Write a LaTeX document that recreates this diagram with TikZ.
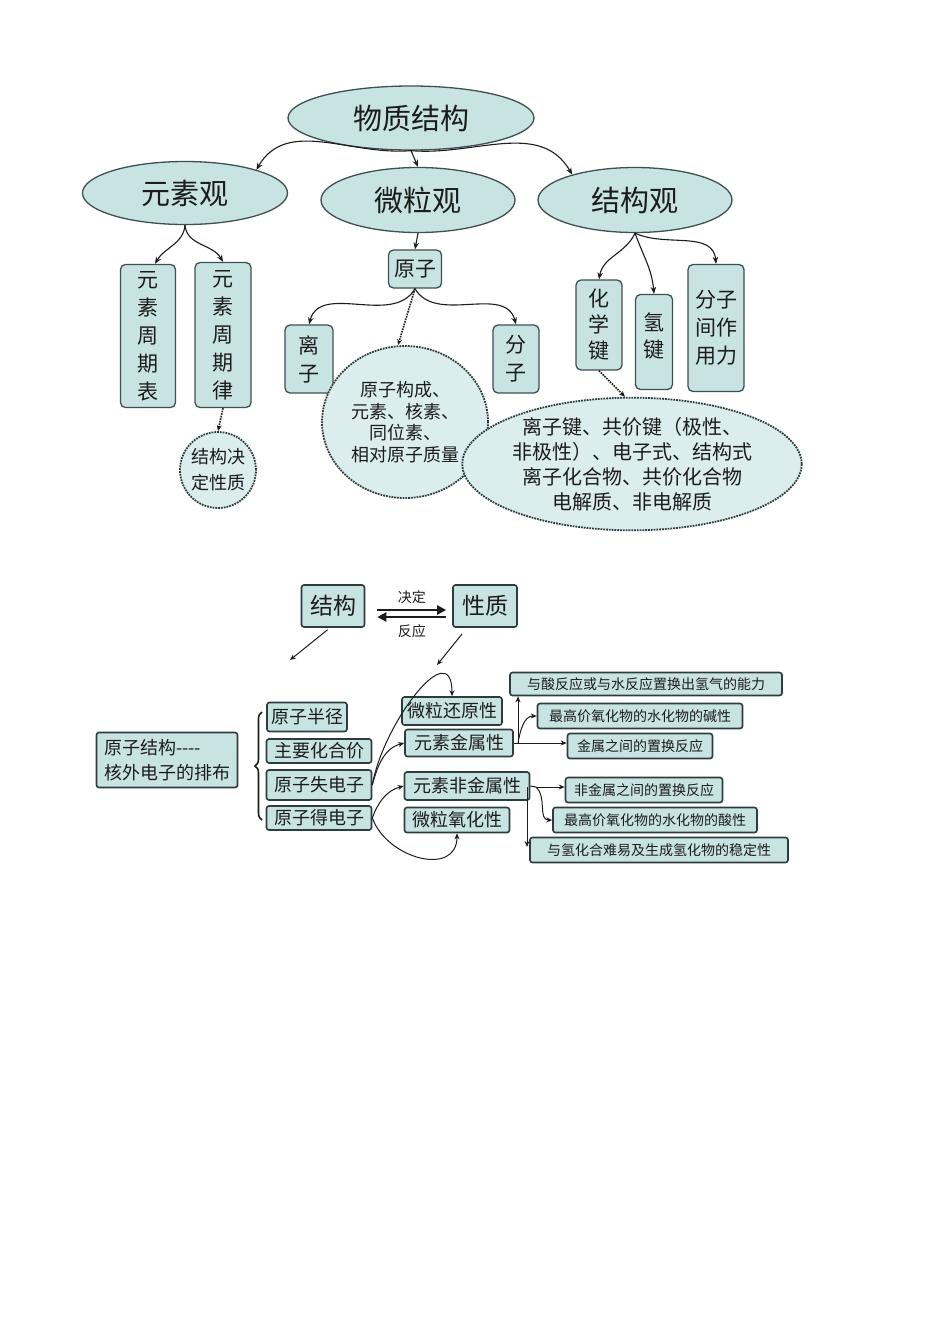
\documentclass[tikz,border=0pt]{standalone}
\usepackage{fontspec}
\setmainfont{Noto Sans CJK SC}
\usetikzlibrary{arrows.meta,shapes.geometric,decorations.pathreplacing,calc}
\definecolor{tealfill}{RGB}{200,228,226}
\definecolor{edge}{RGB}{62,80,80}
\definecolor{edgedark}{RGB}{45,60,60}
\definecolor{ink}{RGB}{28,28,28}
\begin{document}
\begin{tikzpicture}[x=1pt,y=-1pt,
  ell/.style={ellipse, draw=edge, line width=1.3pt, fill=tealfill, inner sep=0pt, text=ink, font=\fontsize{29}{32}\selectfont},
  vbox/.style={rectangle, rounded corners=5pt, draw=edge, line width=1.3pt, fill=tealfill, inner sep=0pt, align=center, text=ink, font=\fontsize{21}{28}\selectfont},
  dell/.style={ellipse, draw=edgedark, densely dotted, line width=1.8pt, fill=tealfill!65!white, inner sep=0pt, align=center, text=ink},
  bbox/.style={rectangle, rounded corners=2.5pt, draw=edgedark, line width=1.6pt, fill=tealfill, inner sep=0pt, align=center, text=ink, font=\fontsize{18}{25}\selectfont},
  sbox/.style={bbox, font=\fontsize{14}{16}\selectfont},
  arr/.style={-{Stealth[length=7pt,width=5.5pt]}, line width=1.1pt, draw=ink},
  darr/.style={-{Stealth[length=6pt,width=5pt]}, line width=1.6pt, densely dotted, draw=ink},
  sarr/.style={-{Stealth[length=6pt,width=5pt]}, line width=1pt, draw=ink}
]
\useasboundingbox (0,0) rectangle (950,1344);

% ---------- top diagram ----------
\node[ell, minimum width=246pt, minimum height=64pt] (root) at (411,118) {物质结构};
\node[ell, minimum width=205pt, minimum height=63pt] (yuan) at (185,193) {元素观};
\node[ell, minimum width=194pt, minimum height=65pt] (weili) at (418,200) {微粒观};
\node[ell, minimum width=194pt, minimum height=65pt] (jgg) at (635,200) {结构观};

\draw[arr] (root.south) to[out=185,in=60] (yuan.18);
\draw[arr] (root.south) -- (weili.north);
\draw[arr] (root.south) to[out=-5,in=120] (jgg.158);

\node[vbox, minimum width=55pt, minimum height=143pt] (zqb) at (148,336) {元\\素\\周\\期\\表};
\node[vbox, minimum width=56pt, minimum height=145pt] (zql) at (223,335) {元\\素\\周\\期\\律};
\draw[arr] (yuan.south) to[out=-95,in=60] ([xshift=7pt]zqb.north);
\draw[arr] (yuan.south) to[out=-85,in=120] (zql.north);

\node[dell, circle, minimum size=76pt, font=\fontsize{18}{26}\selectfont] (jdxz) at (218,470) {结构决\\定性质};
\draw[darr] (zql.south) -- (jdxz.north);

\node[vbox, minimum width=53pt, minimum height=38pt] (yz) at (415,269) {原子};
\draw[arr] (weili.south) -- (yz.north);
\node[vbox, minimum width=48pt, minimum height=68pt] (lz) at (309,359) {离\\子};
\node[vbox, minimum width=46pt, minimum height=68pt] (fz) at (516,359) {分\\子};
\draw[arr] (yz.south) to[out=-120,in=75] (lz.north);
\draw[arr] (yz.south) to[out=-60,in=105] (fz.north);

\node[dell, minimum width=166pt, minimum height=152pt, font=\fontsize{18}{21.5}\selectfont] (yzc) at (405,422) {原子构成、\\元素、核素、\\同位素、\\相对原子质量};
\draw[darr] (yz.south) -- ([xshift=-7pt]yzc.north);

\node[vbox, minimum width=46pt, minimum height=90pt, font=\fontsize{21}{26}\selectfont] (hxj) at (599,325) {化\\学\\键};
\node[vbox, minimum width=37pt, minimum height=95pt, font=\fontsize{21}{27}\selectfont, text depth=14pt] (qj) at (654,342) {氢\\键};
\node[vbox, minimum width=56pt, minimum height=127pt] (fzj) at (716,328) {分子\\间作\\用力};
\draw[arr] (jgg.south) to[out=-115,in=80] (hxj.north);
\draw[arr] (jgg.south) to[out=-70,in=95] (qj.north);
\draw[arr] (jgg.south) to[out=-25,in=95] (fzj.north);

\node[dell, minimum width=310pt, minimum height=132pt, font=\fontsize{20}{25}\selectfont] (hxjc) at (632,464) {离子键、共价键（极性、\\非极性）、电子式、结构式\\离子化合物、共价化合物\\电解质、非电解质};
\draw[darr] (hxj.south) -- ([xshift=-7pt]hxjc.north);

% ---------- bottom diagram ----------
\node[bbox, minimum width=63pt, minimum height=42pt, font=\fontsize{23}{26}\selectfont] (jg) at (333,606) {结构};
\node[bbox, minimum width=64pt, minimum height=42pt, font=\fontsize{23}{26}\selectfont] (xz) at (485,606) {性质};
\draw[-{Triangle[length=9pt,width=9pt]}, line width=2.6pt, draw=ink] ([xshift=12pt,yshift=-4pt]jg.east) -- ([xshift=-6pt,yshift=-4pt]xz.west) node[midway, above=2pt, font=\fontsize{14}{15}\selectfont, text=ink] {决定};
\draw[-{Triangle[length=9pt,width=9pt]}, line width=2.6pt, draw=ink] ([xshift=-6pt,yshift=-11pt]xz.west) -- ([xshift=12pt,yshift=-11pt]jg.east) node[midway, below=3pt, font=\fontsize{14}{15}\selectfont, text=ink] {反应};

\coordinate (p1) at (290,660);
\coordinate (p2) at (437,665);
\draw[sarr, shorten <=3pt] ([xshift=-3pt]jg.south) -- (p1);
\draw[sarr, shorten <=8pt] ([xshift=-18pt]xz.south) -- (p2);

\node[bbox, minimum width=141pt, minimum height=55pt, align=left] (yzjg) at (167,760) {原子结构-{}-{}-{}-\\核外电子的排布};
\coordinate (brb) at (262,820);
\coordinate (brt) at (262,712);
\draw[decorate, decoration={brace, amplitude=7pt}, line width=1.6pt, draw=ink] (brb) -- (brt);

\node[bbox, minimum width=80pt, minimum height=29pt] (bj) at (307,717) {原子半径};
\node[bbox, minimum width=105pt, minimum height=24pt] (hhj) at (319,751) {主要化合价};
\node[bbox, minimum width=105pt, minimum height=30pt] (sdz) at (319,785) {原子失电子};
\node[bbox, minimum width=105pt, minimum height=24pt] (ddz) at (319,818) {原子得电子};

\node[bbox, minimum width=100pt, minimum height=28pt] (hyx) at (452,711) {微粒还原性};
\node[bbox, minimum width=108pt, minimum height=27pt] (jsx) at (459,743) {元素金属性};
\node[bbox, minimum width=125pt, minimum height=28pt] (fjsx) at (467,786) {元素非金属性};
\node[bbox, minimum width=105pt, minimum height=25pt] (yhx) at (457,820) {微粒氧化性};

\draw[sarr] (sdz.east) to[out=80,in=90,looseness=1.35] (hyx.north);
\draw[sarr] (sdz.east) to[out=75,in=195] (jsx.west);
\draw[sarr] (ddz.east) to[out=70,in=195] (fjsx.west);
\draw[sarr] (ddz.east) to[out=-70,in=-90,looseness=1.3] (yhx.south);

\node[sbox, minimum width=272pt, minimum height=23pt] (r1) at (646,684) {与酸反应或与水反应置换出氢气的能力};
\node[sbox, minimum width=205pt, minimum height=25pt] (r2) at (640,716) {最高价氧化物的水化物的碱性};
\node[sbox, minimum width=145pt, minimum height=25pt] (r3) at (640,746) {金属之间的置换反应};
\node[sbox, minimum width=157pt, minimum height=25pt] (r4) at (644,790) {非金属之间的置换反应};
\node[sbox, minimum width=204pt, minimum height=25pt] (r5) at (655,820) {最高价氧化物的水化物的酸性};
\node[sbox, minimum width=258pt, minimum height=25pt] (r6) at (659,850) {与氢化合难易及生成氢化物的稳定性};

\coordinate (t1) at (518,743);
\draw[line width=1pt, draw=ink] (jsx.east) -- (t1);
\draw[sarr] (t1) -- (t1 |- r1.south);
\draw[sarr] (t1) to[out=80,in=180] (r2.west);
\draw[sarr] (t1) -- (t1 -| r3.west);

\coordinate (t2) at (536,787);
\coordinate (t3) at (527,787);
\draw[line width=1pt, draw=ink] (fjsx.east) -- (t2);
\draw[sarr] (t2) -- (t2 -| r4.west);
\draw[sarr] (t2) to[out=-40,in=180] (r5.west);
\draw[sarr] (t3) -- ([yshift=3pt]t3 |- r6.west);
\end{tikzpicture}
\end{document}
